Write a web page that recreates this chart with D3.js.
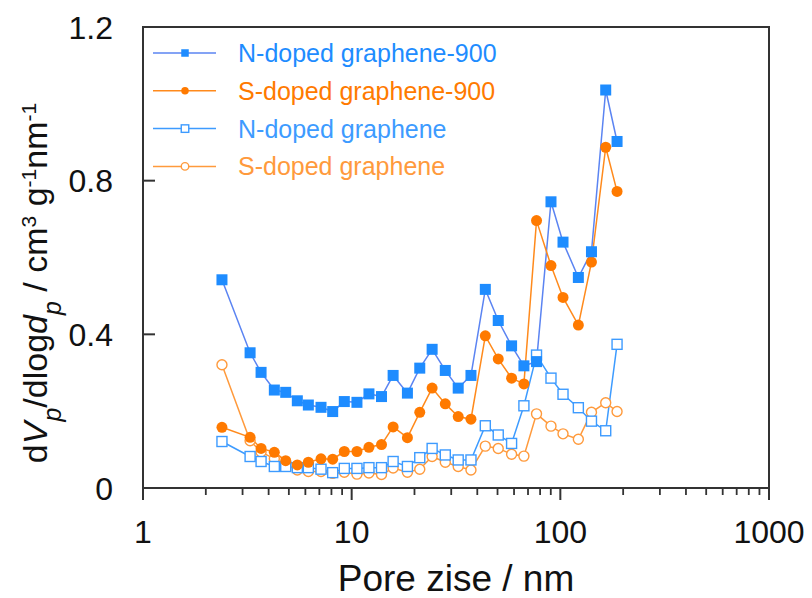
<!DOCTYPE html>
<html>
<head>
<meta charset="utf-8">
<script src="https://cdn.jsdelivr.net/npm/d3@7"></script>
<style>
  body { margin: 0; background: #fff; }
  text { font-family: "Liberation Sans", Arial, sans-serif; }
</style>
</head>
<body>
<div id="chart"></div>
<script>
// pore size (nm), shared by all four series
const poreSize = [2.39, 3.26, 3.68, 4.26, 4.83, 5.49, 6.20, 7.13, 8.11, 9.22,
    10.6, 12.1, 13.9, 15.8, 18.5, 21.2, 24.3, 28.1, 32.4, 37.3,
    43.7, 50.4, 58.4, 66.9, 76.9, 90.2, 103, 122, 141, 165, 187];

const nDoped900 = [0.542, 0.352, 0.301, 0.255, 0.249, 0.227, 0.216, 0.210, 0.199, 0.225,
    0.223, 0.245, 0.238, 0.293, 0.247, 0.312, 0.361, 0.306, 0.260, 0.293,
    0.517, 0.436, 0.370, 0.318, 0.329, 0.745, 0.640, 0.548, 0.615, 1.036, 0.902];

const sDoped900 = [0.158, 0.132, 0.103, 0.093, 0.071, 0.060, 0.067, 0.076, 0.075, 0.095,
    0.095, 0.106, 0.113, 0.159, 0.131, 0.197, 0.260, 0.219, 0.186, 0.179,
    0.396, 0.336, 0.286, 0.271, 0.696, 0.579, 0.496, 0.424, 0.588, 0.887, 0.772];

const nDoped = [0.121, 0.082, 0.069, 0.056, 0.056, 0.053, 0.053, 0.049, 0.040, 0.051,
    0.051, 0.053, 0.053, 0.069, 0.056, 0.079, 0.103, 0.086, 0.073, 0.073,
    0.162, 0.138, 0.116, 0.214, 0.346, 0.286, 0.244, 0.209, 0.174, 0.149, 0.374];

const sDoped = [0.321, 0.123, 0.094, 0.076, 0.060, 0.047, 0.043, 0.043, 0.038, 0.041,
    0.036, 0.039, 0.035, 0.052, 0.041, 0.049, 0.082, 0.067, 0.056, 0.047,
    0.109, 0.103, 0.088, 0.083, 0.193, 0.161, 0.141, 0.127, 0.197, 0.222, 0.199];

const seriesNames = ["N-doped graphene-900", "S-doped graphene-900", "N-doped graphene", "S-doped graphene"];
const xTickValues = [1, 10, 100, 1000];
const yTickValues = [0, 0.4, 0.8, 1.2];

const series = [
    { name: seriesNames[0], values: nDoped900, shape: "square", filled: true, line: "#5b84f2", color: "#1e8cff" },
    { name: seriesNames[1], values: sDoped900, shape: "circle", filled: true, line: "#ff8a1c", color: "#ff7a00" },
    { name: seriesNames[2], values: nDoped, shape: "square", filled: false, line: "#3d9bff", color: "#3d9bff" },
    { name: seriesNames[3], values: sDoped, shape: "circle", filled: false, line: "#ff9a3c", color: "#ff9a3c" }
];

const W = 812, H = 598;
const margin = { top: 27, right: 43, bottom: 110, left: 143 };
const width = W - margin.left - margin.right;
const height = H - margin.top - margin.bottom;

const svg = d3.select("#chart").append("svg")
    .attr("width", W)
    .attr("height", H);

const g = svg.append("g")
    .attr("transform", `translate(${margin.left},${margin.top})`);

const x = d3.scaleLog().domain([1, 1000]).range([0, width]);
const y = d3.scaleLinear().domain([0, 1.2]).range([height, 0]);

const axisColor = "#333";

// series lines
const line = d3.line()
    .x((d, i) => x(poreSize[i]))
    .y(d => y(d));

series.forEach(s => {
    g.append("path")
        .datum(s.values)
        .attr("fill", "none")
        .attr("stroke", s.line)
        .attr("stroke-width", 1.5)
        .attr("d", line);
});

// markers
function drawMarker(sel, s, size) {
    if (s.shape === "square") {
        sel.append("rect")
            .attr("x", -size / 2)
            .attr("y", -size / 2)
            .attr("width", size)
            .attr("height", size)
            .attr("fill", s.filled ? s.color : "#fff")
            .attr("stroke", s.color)
            .attr("stroke-width", s.filled ? 0 : 1.4);
    } else {
        sel.append("circle")
            .attr("r", size / 2)
            .attr("fill", s.filled ? s.color : "#fff")
            .attr("stroke", s.color)
            .attr("stroke-width", s.filled ? 0 : 1.4);
    }
}

series.slice().reverse().forEach(s => {
    g.selectAll(null)
        .data(s.values)
        .enter().append("g")
        .attr("transform", (d, i) => `translate(${x(poreSize[i])},${y(d)})`)
        .each(function () { drawMarker(d3.select(this), s, s.filled ? 11 : 10); });
});

// frame
g.append("rect")
    .attr("width", width)
    .attr("height", height)
    .attr("fill", "none")
    .attr("stroke", axisColor)
    .attr("stroke-width", 2);

// x axis: major + minor ticks pointing down
const minorTicks = [];
[1, 10, 100].forEach(dec => { for (let k = 2; k <= 9; k++) minorTicks.push(dec * k); });

g.append("g")
    .selectAll("line")
    .data(minorTicks)
    .enter().append("line")
    .attr("x1", d => x(d)).attr("x2", d => x(d))
    .attr("y1", height).attr("y2", height + 7)
    .attr("stroke", axisColor).attr("stroke-width", 1.8);

g.append("g")
    .selectAll("line")
    .data(xTickValues)
    .enter().append("line")
    .attr("x1", d => x(d)).attr("x2", d => x(d))
    .attr("y1", height).attr("y2", height + 12)
    .attr("stroke", axisColor).attr("stroke-width", 2);

g.append("g")
    .selectAll("text")
    .data(xTickValues)
    .enter().append("text")
    .attr("x", d => x(d))
    .attr("y", height + 55)
    .attr("text-anchor", "middle")
    .style("font-size", "32px")
    .attr("fill", "#111")
    .text(d => d);

// y axis: ticks pointing inward
g.append("g")
    .selectAll("line")
    .data(yTickValues)
    .enter().append("line")
    .attr("x1", 0).attr("x2", 12)
    .attr("y1", d => y(d)).attr("y2", d => y(d))
    .attr("stroke", axisColor).attr("stroke-width", 2);

g.append("g")
    .selectAll("text")
    .data(yTickValues)
    .enter().append("text")
    .attr("x", -30)
    .attr("y", d => y(d))
    .attr("dy", "0.36em")
    .attr("text-anchor", "end")
    .style("font-size", "32px")
    .attr("fill", "#111")
    .text(d => d === 0 ? "0" : d3.format(".1f")(d));

// axis titles
svg.append("text")
    .attr("x", margin.left + width / 2)
    .attr("y", 591)
    .attr("text-anchor", "middle")
    .style("font-size", "37px")
    .attr("fill", "#111")
    .text("Pore zise / nm");

const yTitle = svg.append("text")
    .attr("transform", "translate(47,283) rotate(-90)")
    .attr("text-anchor", "middle")
    .style("font-size", "34px")
    .attr("fill", "#111");
yTitle.append("tspan").text("d");
yTitle.append("tspan").attr("font-style", "italic").text("V");
yTitle.append("tspan").attr("font-style", "italic").attr("baseline-shift", "sub").style("font-size", "25px").text("p");
yTitle.append("tspan").text("/dlog");
yTitle.append("tspan").attr("font-style", "italic").text("d");
yTitle.append("tspan").attr("font-style", "italic").attr("baseline-shift", "sub").style("font-size", "25px").text("p");
yTitle.append("tspan").text(" / cm");
yTitle.append("tspan").attr("baseline-shift", "super").style("font-size", "21px").text("3");
yTitle.append("tspan").text(" g");
yTitle.append("tspan").attr("baseline-shift", "super").style("font-size", "21px").text("-1");
yTitle.append("tspan").text("nm");
yTitle.append("tspan").attr("baseline-shift", "super").style("font-size", "21px").text("-1");

// legend
const legend = g.selectAll(".legend")
    .data(series)
    .enter().append("g")
    .attr("class", "legend")
    .attr("transform", (d, i) => `translate(0,${26 + i * 37.8})`);

legend.append("line")
    .attr("x1", 10).attr("x2", 73)
    .attr("stroke", d => d.line)
    .attr("stroke-width", 1.5);

legend.append("g")
    .attr("transform", "translate(42,0)")
    .each(function (d) { drawMarker(d3.select(this), d, 7.5); });

legend.append("text")
    .attr("x", 95)
    .attr("dy", "0.36em")
    .style("font-size", "25px")
    .attr("fill", d => d.color)
    .text(d => d.name);
</script>
</body>
</html>
